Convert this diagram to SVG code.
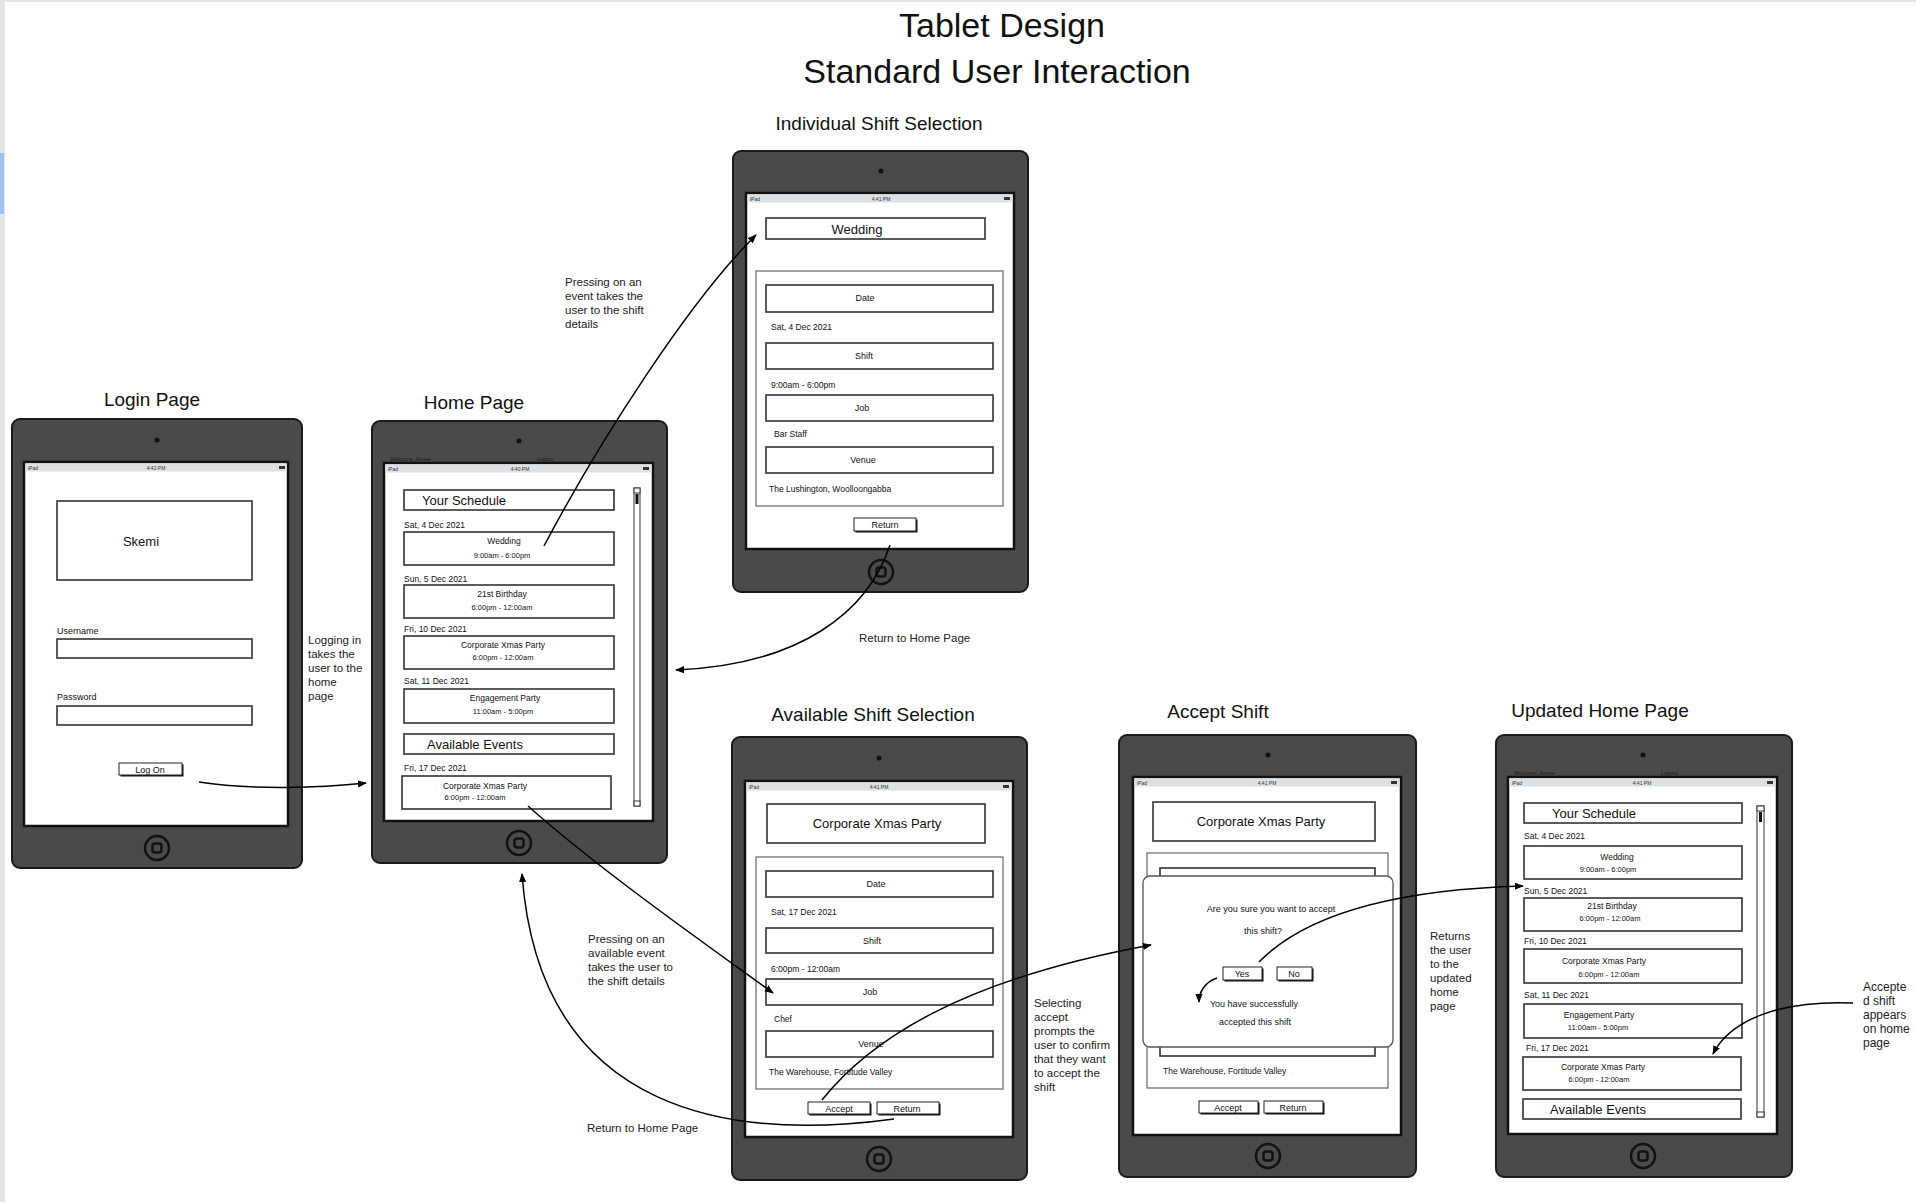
<svg xmlns="http://www.w3.org/2000/svg" width="1916" height="1202" viewBox="0 0 1916 1202">
<defs>
<style>
text{font-family:"Liberation Sans",Arial,sans-serif;fill:#111}
.frame{fill:#4a4a4a;stroke:#1a1a1a;stroke-width:2}
.screen{fill:#fff;stroke:#111;stroke-width:2.5}
.sbar{fill:#dce1e5}
.st{font-size:5px;fill:#333}
.cam{fill:#111}
.hb{fill:none;stroke:#111;stroke-width:2.5}
.box{fill:#fff;stroke:#333;stroke-width:1.6}
.cont{fill:#fff;stroke:#666;stroke-width:1.2}
.btn{fill:#fff;stroke:#222;stroke-width:1}
.sh{fill:#111}
.title{font-size:19px}
.big{font-size:34px}
.h13{font-size:13px}
.s9{font-size:9px}
.s85{font-size:8.5px}
.s75{font-size:7.5px}
.note{font-size:11.5px;fill:#222}
.tiny{font-size:5.5px;fill:#1a1a1a}
.mid{text-anchor:middle}
.conn{fill:none;stroke:#000;stroke-width:1.5;marker-end:url(#ah)}
.scr{fill:#fff;stroke:#333;stroke-width:1}
</style>
<marker id="ah" viewBox="0 0 10 8" refX="9" refY="4" markerWidth="9" markerHeight="8" markerUnits="userSpaceOnUse" orient="auto">
<path d="M0,0 L10,4 L0,8 z" fill="#000"/>
</marker>
</defs>
<rect x="0" y="0" width="1916" height="1202" fill="#fff"/>
<rect x="0" y="0" width="1916" height="2" fill="#e6e6e6"/>
<rect x="0" y="0" width="5" height="1202" fill="#e6e6e6"/>
<rect x="0" y="153" width="4" height="61" fill="#9cc3ee"/>

<g id="titles">
<text class="big mid" x="1002" y="37">Tablet Design</text>
<text class="big mid" x="997" y="83">Standard User Interaction</text>
<text class="title mid" x="152" y="406">Login Page</text>
<text class="title mid" x="474" y="409">Home Page</text>
<text class="title mid" x="879" y="130">Individual Shift Selection</text>
<text class="title mid" x="873" y="721">Available Shift Selection</text>
<text class="title mid" x="1218" y="718">Accept Shift</text>
<text class="title mid" x="1600" y="717">Updated Home Page</text>
</g>

<g id="login-page">
<rect class="frame" x="12" y="419" width="290" height="449" rx="8"/>
<circle class="cam" cx="157" cy="440" r="2.5"/>
<circle class="hb" cx="157" cy="848" r="12"/>
<rect class="hb" x="152.5" y="843.5" width="9" height="9" rx="2.5"/>
<rect class="screen" x="24" y="462" width="264" height="364"/>
<rect class="sbar" x="25.5" y="463.5" width="261" height="8"/>
<text class="st" x="28" y="469.5">iPad</text>
<text class="st mid" x="156" y="469.5">4:42 PM</text>
<rect x="279" y="466" width="6" height="3" fill="#333"/>
<rect class="box" x="57" y="501" width="195" height="79"/>
<text class="h13 mid" x="141" y="546">Skemi</text>
<text class="s9" x="57" y="634">Username</text>
<rect class="box" x="57" y="639" width="195" height="19"/>
<text class="s9" x="57" y="700">Password</text>
<rect class="box" x="57" y="706" width="195" height="19"/>
<rect class="sh" x="120.5" y="764.5" width="63" height="12"/>
<rect class="btn" x="119" y="763" width="63" height="12"/>
<text class="s9 mid" x="150" y="773">Log On</text>
</g>

<g id="home-page">
<rect class="frame" x="372" y="421" width="295" height="442" rx="8"/>
<circle class="cam" cx="519" cy="441" r="2.5"/>
<circle class="hb" cx="519" cy="843" r="12"/>
<rect class="hb" x="514.5" y="838.5" width="9" height="9" rx="2.5"/>
<text class="tiny" x="390" y="461">Welcome, Aimee</text>
<text class="tiny" x="537" y="461">Logout</text>
<rect class="screen" x="384" y="463" width="269" height="358"/>
<rect class="sbar" x="385.5" y="464.5" width="266" height="8"/>
<text class="st" x="388" y="470.5">iPad</text>
<text class="st mid" x="520" y="470.5">4:40 PM</text>
<rect x="643" y="467" width="6" height="3" fill="#333"/>
<rect class="scr" x="634" y="488" width="6" height="318"/>
<rect class="scr" x="634" y="488" width="6" height="5"/>
<rect class="scr" x="634" y="801" width="6" height="5"/>
<rect x="635.5" y="494" width="3" height="10" fill="#111"/>
<rect class="box" x="404" y="490" width="210" height="20"/>
<text class="h13" x="422" y="505">Your Schedule</text>
<text class="s85" x="404" y="528">Sat, 4 Dec 2021</text>
<rect class="box" x="404" y="532" width="210" height="33"/>
<text class="s85 mid" x="504" y="544">Wedding</text>
<text class="s75 mid" x="502" y="558">9:00am - 6:00pm</text>
<text class="s85" x="404" y="582">Sun, 5 Dec 2021</text>
<rect class="box" x="404" y="585" width="210" height="33"/>
<text class="s85 mid" x="502" y="597">21st Birthday</text>
<text class="s75 mid" x="502" y="610">6:00pm - 12:00am</text>
<text class="s85" x="404" y="632">Fri, 10 Dec 2021</text>
<rect class="box" x="404" y="636" width="210" height="33"/>
<text class="s85 mid" x="503" y="648">Corporate Xmas Party</text>
<text class="s75 mid" x="503" y="660">6:00pm - 12:00am</text>
<text class="s85" x="404" y="684">Sat, 11 Dec 2021</text>
<rect class="box" x="404" y="689" width="210" height="34"/>
<text class="s85 mid" x="505" y="701">Engagement Party</text>
<text class="s75 mid" x="503" y="714">11:00am - 5:00pm</text>
<rect class="box" x="404" y="734" width="210" height="20"/>
<text class="h13" x="427" y="749">Available Events</text>
<text class="s85" x="404" y="771">Fri, 17 Dec 2021</text>
<rect class="box" x="402" y="776" width="209" height="33"/>
<text class="s85 mid" x="485" y="789">Corporate Xmas Party</text>
<text class="s75 mid" x="475" y="800">6:00pm - 12:00am</text>
</g>

<g id="individual-shift">
<rect class="frame" x="733" y="151" width="295" height="441" rx="8"/>
<circle class="cam" cx="881" cy="171" r="2.5"/>
<circle class="hb" cx="881" cy="572" r="12"/>
<rect class="hb" x="876.5" y="567.5" width="9" height="9" rx="2.5"/>
<rect class="screen" x="746" y="193" width="268" height="356"/>
<rect class="sbar" x="747.5" y="194.5" width="265" height="8"/>
<text class="st" x="750" y="200.5">iPad</text>
<text class="st mid" x="881" y="200.5">4:41 PM</text>
<rect x="1004" y="197" width="6" height="3" fill="#333"/>
<rect class="box" x="766" y="218" width="219" height="21"/>
<text class="h13 mid" x="857" y="234">Wedding</text>
<rect class="cont" x="756" y="271" width="247" height="235"/>
<rect class="box" x="766" y="285" width="227" height="27"/>
<text class="s9 mid" x="865" y="301">Date</text>
<text class="s85" x="771" y="330">Sat, 4 Dec 2021</text>
<rect class="box" x="766" y="343" width="227" height="26"/>
<text class="s9 mid" x="864" y="359">Shift</text>
<text class="s85" x="771" y="388">9:00am - 6:00pm</text>
<rect class="box" x="766" y="395" width="227" height="26"/>
<text class="s9 mid" x="862" y="411">Job</text>
<text class="s85" x="774" y="437">Bar Staff</text>
<rect class="box" x="766" y="447" width="227" height="26"/>
<text class="s9 mid" x="863" y="463">Venue</text>
<text class="s85" x="769" y="492">The Lushington, Woolloongabba</text>
<rect class="sh" x="855.5" y="519.5" width="62" height="13"/>
<rect class="btn" x="854" y="518" width="62" height="13"/>
<text class="s9 mid" x="885" y="528">Return</text>
</g>

<g id="available-shift">
<rect class="frame" x="732" y="737" width="295" height="443" rx="8"/>
<circle class="cam" cx="879" cy="758" r="2.5"/>
<circle class="hb" cx="879" cy="1159" r="12"/>
<rect class="hb" x="874.5" y="1154.5" width="9" height="9" rx="2.5"/>
<rect class="screen" x="745" y="781" width="268" height="356"/>
<rect class="sbar" x="746.5" y="782.5" width="265" height="8"/>
<text class="st" x="749" y="788.5">iPad</text>
<text class="st mid" x="879" y="788.5">4:41 PM</text>
<rect x="1003" y="785" width="6" height="3" fill="#333"/>
<rect class="box" x="767" y="804" width="218" height="39"/>
<text class="h13 mid" x="877" y="828">Corporate Xmas Party</text>
<rect class="cont" x="756" y="857" width="247" height="232"/>
<rect class="box" x="766" y="871" width="227" height="26"/>
<text class="s9 mid" x="876" y="887">Date</text>
<text class="s85" x="771" y="915">Sat, 17 Dec 2021</text>
<rect class="box" x="766" y="928" width="227" height="25"/>
<text class="s9 mid" x="872" y="944">Shift</text>
<text class="s85" x="771" y="972">6:00pm - 12:00am</text>
<rect class="box" x="766" y="979" width="227" height="26"/>
<text class="s9 mid" x="870" y="995">Job</text>
<text class="s85" x="774" y="1022">Chef</text>
<rect class="box" x="766" y="1031" width="227" height="26"/>
<text class="s9 mid" x="871" y="1047">Venue</text>
<text class="s85" x="769" y="1075">The Warehouse, Fortitude Valley</text>
<rect class="sh" x="809.5" y="1103.5" width="62" height="12"/>
<rect class="btn" x="808" y="1102" width="62" height="12"/>
<text class="s9 mid" x="839" y="1112">Accept</text>
<rect class="sh" x="878.5" y="1103.5" width="62" height="12"/>
<rect class="btn" x="877" y="1102" width="62" height="12"/>
<text class="s9 mid" x="907" y="1112">Return</text>
</g>

<g id="accept-shift">
<rect class="frame" x="1119" y="735" width="297" height="442" rx="8"/>
<circle class="cam" cx="1268" cy="755" r="2.5"/>
<circle class="hb" cx="1268" cy="1156" r="12"/>
<rect class="hb" x="1263.5" y="1151.5" width="9" height="9" rx="2.5"/>
<rect class="screen" x="1133" y="777" width="268" height="358"/>
<rect class="sbar" x="1134.5" y="778.5" width="265" height="8"/>
<text class="st" x="1137" y="784.5">iPad</text>
<text class="st mid" x="1267" y="784.5">4:41 PM</text>
<rect x="1391" y="781" width="6" height="3" fill="#333"/>
<rect class="box" x="1153" y="802" width="222" height="39"/>
<text class="h13 mid" x="1261" y="826">Corporate Xmas Party</text>
<rect class="cont" x="1147" y="853" width="241" height="235"/>
<rect class="box" x="1160" y="868" width="215" height="188"/>
<text class="s85" x="1163" y="1074">The Warehouse, Fortitude Valley</text>
<rect x="1143" y="876" width="250" height="171" rx="7" fill="#fff" stroke="#555" stroke-width="1.3"/>
<text class="s9 mid" x="1271" y="912">Are you sure you want to accept</text>
<text class="s9 mid" x="1263" y="934">this shift?</text>
<rect class="sh" x="1224.5" y="968.5" width="39" height="13"/>
<rect class="btn" x="1223" y="967" width="39" height="13"/>
<text class="s9 mid" x="1242" y="977">Yes</text>
<rect class="sh" x="1278.5" y="968.5" width="35" height="13"/>
<rect class="btn" x="1277" y="967" width="35" height="13"/>
<text class="s9 mid" x="1294" y="977">No</text>
<text class="s9 mid" x="1254" y="1007">You have successfully</text>
<text class="s9 mid" x="1255" y="1025">accepted this shift</text>
<rect class="sh" x="1200.5" y="1102.5" width="59" height="12"/>
<rect class="btn" x="1199" y="1101" width="59" height="12"/>
<text class="s9 mid" x="1228" y="1111">Accept</text>
<rect class="sh" x="1265.5" y="1102.5" width="59" height="12"/>
<rect class="btn" x="1264" y="1101" width="59" height="12"/>
<text class="s9 mid" x="1293" y="1111">Return</text>
</g>

<g id="updated-home">
<rect class="frame" x="1496" y="735" width="296" height="442" rx="8"/>
<circle class="cam" cx="1643" cy="755" r="2.5"/>
<circle class="hb" cx="1643" cy="1156" r="12"/>
<rect class="hb" x="1638.5" y="1151.5" width="9" height="9" rx="2.5"/>
<text class="tiny" x="1514" y="775">Welcome, Aimee</text>
<text class="tiny" x="1661" y="775">Logout</text>
<rect class="screen" x="1508" y="777" width="269" height="357"/>
<rect class="sbar" x="1509.5" y="778.5" width="266" height="8"/>
<text class="st" x="1512" y="784.5">iPad</text>
<text class="st mid" x="1642" y="784.5">4:41 PM</text>
<rect x="1767" y="781" width="6" height="3" fill="#333"/>
<rect class="scr" x="1757" y="806" width="7" height="311"/>
<rect class="scr" x="1757" y="806" width="7" height="5"/>
<rect class="scr" x="1757" y="1112" width="7" height="5"/>
<rect x="1759" y="812" width="3" height="10" fill="#111"/>
<rect class="box" x="1524" y="803" width="218" height="20"/>
<text class="h13" x="1552" y="818">Your Schedule</text>
<text class="s85" x="1524" y="839">Sat, 4 Dec 2021</text>
<rect class="box" x="1524" y="846" width="218" height="33"/>
<text class="s85 mid" x="1617" y="860">Wedding</text>
<text class="s75 mid" x="1608" y="872">9:00am - 6:00pm</text>
<text class="s85" x="1524" y="894">Sun, 5 Dec 2021</text>
<rect class="box" x="1524" y="898" width="218" height="33"/>
<text class="s85 mid" x="1612" y="909">21st Birthday</text>
<text class="s75 mid" x="1610" y="921">6:00pm - 12:00am</text>
<text class="s85" x="1524" y="944">Fri, 10 Dec 2021</text>
<rect class="box" x="1524" y="949" width="218" height="34"/>
<text class="s85 mid" x="1604" y="964">Corporate Xmas Party</text>
<text class="s75 mid" x="1609" y="977">6:00pm - 12:00am</text>
<text class="s85" x="1524" y="998">Sat, 11 Dec 2021</text>
<rect class="box" x="1524" y="1004" width="218" height="34"/>
<text class="s85 mid" x="1599" y="1018">Engagement Party</text>
<text class="s75 mid" x="1598" y="1030">11:00am - 5:00pm</text>
<text class="s85" x="1526" y="1051">Fri, 17 Dec 2021</text>
<rect class="box" x="1523" y="1057" width="218" height="33"/>
<text class="s85 mid" x="1603" y="1070">Corporate Xmas Party</text>
<text class="s75 mid" x="1599" y="1082">6:00pm - 12:00am</text>
<rect class="box" x="1523" y="1099" width="218" height="20"/>
<text class="h13" x="1550" y="1114">Available Events</text>
</g>

<g id="connectors">
<path class="conn" d="M199,782 C250,790 320,788 366,783"/>
<path class="conn" d="M544,546 C600,440 690,300 756,235"/>
<path class="conn" d="M890,545 C868,612 800,665 676,670"/>
<path class="conn" d="M528,806 C600,870 700,940 773,993"/>
<path class="conn" d="M894,1119 C740,1140 540,1120 522,874"/>
<path class="conn" d="M822,1100 C870,1040 960,980 1151,945"/>
<path class="conn" d="M1259,962 C1300,920 1380,890 1523,886"/>
<path class="conn" d="M1217,978 C1205,982 1199,992 1199,1002"/>
<path class="conn" d="M1853,1003 C1780,1000 1730,1020 1713,1054"/>
</g>

<g id="annotations">
<text class="note"><tspan x="308" y="644">Logging in</tspan><tspan x="308" y="658">takes the</tspan><tspan x="308" y="672">user to the</tspan><tspan x="308" y="686">home</tspan><tspan x="308" y="700">page</tspan></text>
<text class="note"><tspan x="565" y="286">Pressing on an</tspan><tspan x="565" y="300">event takes the</tspan><tspan x="565" y="314">user to the shift</tspan><tspan x="565" y="328">details</tspan></text>
<text class="note" x="859" y="642">Return to Home Page</text>
<text class="note"><tspan x="588" y="943">Pressing on an</tspan><tspan x="588" y="957">available event</tspan><tspan x="588" y="971">takes the user to</tspan><tspan x="588" y="985">the shift details</tspan></text>
<text class="note" x="587" y="1132">Return to Home Page</text>
<text class="note"><tspan x="1034" y="1007">Selecting</tspan><tspan x="1034" y="1021">accept</tspan><tspan x="1034" y="1035">prompts the</tspan><tspan x="1034" y="1049">user to confirm</tspan><tspan x="1034" y="1063">that they want</tspan><tspan x="1034" y="1077">to accept the</tspan><tspan x="1034" y="1091">shift</tspan></text>
<text class="note"><tspan x="1430" y="940">Returns</tspan><tspan x="1430" y="954">the user</tspan><tspan x="1430" y="968">to the</tspan><tspan x="1430" y="982">updated</tspan><tspan x="1430" y="996">home</tspan><tspan x="1430" y="1010">page</tspan></text>
<text class="note" style="font-size:12px"><tspan x="1863" y="991">Accepte</tspan><tspan x="1863" y="1005">d shift</tspan><tspan x="1863" y="1019">appears</tspan><tspan x="1863" y="1033">on home</tspan><tspan x="1863" y="1047">page</tspan></text>
</g>
</svg>
